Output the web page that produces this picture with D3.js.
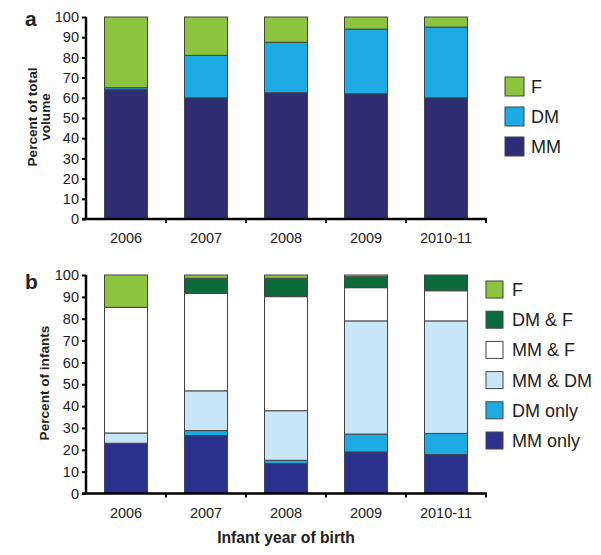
<!DOCTYPE html>
<html>
<head>
<meta charset="utf-8">
<script src="https://cdn.jsdelivr.net/npm/d3@7"></script>
<style>
  html, body { margin: 0; padding: 0; background: #fff; }
  svg text { font-family: "Liberation Sans", Arial, Helvetica, sans-serif; fill: #222; }
</style>
</head>
<body>
<svg id="chart" width="601" height="555"></svg>
<script>
// ---------- DATA ----------
const years = ["2006", "2007", "2008", "2009", "2010-11"];
const yTicks = [0, 10, 20, 30, 40, 50, 60, 70, 80, 90, 100];

// Panel a: percent of total volume
const volKeys = ["MM", "DM", "F"];
const volMM = [64, 60, 62.5, 62, 60];
const volDM = [1, 21, 25, 32, 35];
const volF  = [35, 19, 12.5, 6, 5];

// Panel b: percent of infants
const infKeys = ["MM only", "DM only", "MM & DM", "MM & F", "DM & F", "F"];
const infMMonly = [23, 26.5, 13.7, 19, 17.8];
const infDMonly = [0, 2.3, 1.5, 8.2, 9.7];
const infMMDM   = [4.7, 18.2, 22.7, 51.8, 51.5];
const infMMF    = [57.5, 44.6, 52.2, 15.2, 13.8];
const infDMF    = [0, 6.9, 8.4, 5, 7.2];
const infF      = [14.8, 1.5, 1.5, 0.8, 0];

// ---------- STYLE ----------
const colA = { "MM": "#2d2e74", "DM": "#1eaae2", "F": "#8cc43f" };
const colB = { "MM only": "#2c3190", "DM only": "#1eaae2", "MM & DM": "#c8e6f7",
               "MM & F": "#ffffff", "DM & F": "#0d6b3b", "F": "#8cc43f" };

const svg = d3.select("#chart");

const x = d3.scaleBand().domain(years).range([86, 486])
  .paddingInner(0.4625).paddingOuter(0.23125);

function panel(opts) {
  const { rows, keys, colors, y0, y1, label, labelY, titleLines, titleX, titleY,
          tickBase, legendX, legendY, legendSize, legendStep, legendTextX } = opts;
  const y = d3.scaleLinear().domain([0, 100]).range([y0, y1]);
  const g = svg.append("g");
  const stack = d3.stack().keys(keys)(rows);

  // bars
  stack.forEach(layer => {
    g.selectAll(null).data(layer).enter().append("rect")
      .attr("x", d => x(d.data.year))
      .attr("width", x.bandwidth())
      .attr("y", d => y(d[1]))
      .attr("height", d => y(d[0]) - y(d[1]))
      .attr("fill", colors[layer.key])
      .attr("stroke", "#444")
      .attr("stroke-width", 1);
  });

  // y axis
  const yAxis = d3.axisLeft(y).tickValues(yTicks).tickSize(4).tickPadding(3);
  const ya = g.append("g").attr("transform", "translate(86,0)").call(yAxis);
  ya.select(".domain").attr("stroke", "#000").attr("stroke-width", 2.5)
    .attr("d", `M0,${y1}V${y0}`);
  ya.selectAll(".tick line").attr("stroke", "#000").attr("stroke-width", 2);
  ya.selectAll(".tick text").style("font-size", "14.5px").attr("fill", "#222");

  // x axis (labels)
  const xAxis = d3.axisBottom(x).tickSize(0).tickPadding(0);
  const xa = g.append("g").attr("transform", `translate(0,${y0})`).call(xAxis);
  xa.select(".domain").remove();
  xa.selectAll(".tick text").style("font-size", "14.5px").attr("fill", "#222")
    .attr("dy", null).attr("y", tickBase - y0);
  // x axis line with ticks at band boundaries
  g.append("line").attr("x1", 82).attr("x2", 487).attr("y1", y0).attr("y2", y0)
    .attr("stroke", "#000").attr("stroke-width", 2.5);
  const bounds = years.map(c => x(c) + x.bandwidth() + (x.step() - x.bandwidth()) / 2);
  g.selectAll(null).data(bounds).enter().append("line")
    .attr("x1", d => d).attr("x2", d => d)
    .attr("y1", y0).attr("y2", y0 + 4)
    .attr("stroke", "#000").attr("stroke-width", 2);

  // panel label
  g.append("text").attr("x", 25).attr("y", labelY).text(label)
    .style("font-size", "21px").style("font-weight", "bold").attr("fill", "#111");

  // y title
  const t = g.append("text")
    .attr("transform", `translate(${titleX},${titleY}) rotate(-90)`)
    .attr("text-anchor", "middle")
    .style("font-size", "13.6px").style("font-weight", "bold").attr("fill", "#222");
  titleLines.forEach((line, i) => {
    t.append("tspan").attr("x", 0).attr("y", i * 13).text(line);
  });

  // legend (reverse order, top = last key)
  const legKeys = keys.slice().reverse();
  const lg = g.append("g");
  legKeys.forEach((k, i) => {
    const yy = legendY + i * legendStep;
    lg.append("rect").attr("x", legendX).attr("y", yy)
      .attr("width", legendSize).attr("height", legendSize)
      .attr("fill", colors[k]).attr("stroke", "#444").attr("stroke-width", 1);
    lg.append("text").attr("x", legendTextX).attr("y", yy + legendSize / 2)
      .attr("dy", "0.36em").text(k)
      .style("font-size", "18px").attr("fill", "#222");
  });
}

const rowsA = years.map((yr, i) => ({ year: yr, "MM": volMM[i], "DM": volDM[i], "F": volF[i] }));
const rowsB = years.map((yr, i) => ({
  year: yr, "MM only": infMMonly[i], "DM only": infDMonly[i], "MM & DM": infMMDM[i],
  "MM & F": infMMF[i], "DM & F": infDMF[i], "F": infF[i]
}));

panel({ rows: rowsA, keys: volKeys, colors: colA, y0: 219, y1: 17,
  label: "a", labelY: 26, titleLines: ["Percent of total", "volume"],
  titleX: 37, titleY: 117, tickBase: 243,
  legendX: 505, legendY: 77, legendSize: 19, legendStep: 30, legendTextX: 531 });

panel({ rows: rowsB, keys: infKeys, colors: colB, y0: 493.5, y1: 275,
  label: "b", labelY: 289, titleLines: ["Percent of infants"],
  titleX: 49, titleY: 383, tickBase: 518,
  legendX: 486, legendY: 281, legendSize: 17, legendStep: 30.2, legendTextX: 512 });

// x title
svg.append("text").attr("x", 286).attr("y", 543).attr("text-anchor", "middle")
  .text("Infant year of birth")
  .style("font-size", "15.7px").style("font-weight", "bold").attr("fill", "#222");
</script>
</body>
</html>
